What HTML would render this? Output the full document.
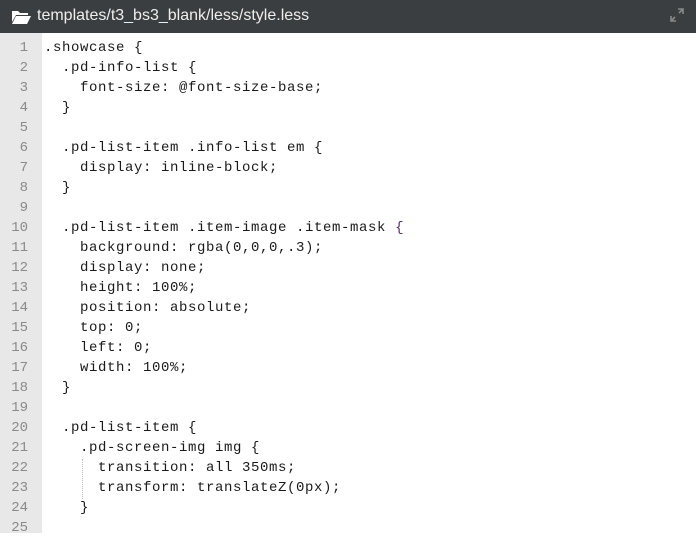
<!DOCTYPE html>
<html><head><style>
body{margin:0;width:696px;height:533px;overflow:hidden;background:#fff;font-family:"Liberation Sans",sans-serif;}
.hdr{position:absolute;left:0;top:0;width:696px;height:33px;background:#3b3e40;color:#eee;font-size:16px;}
.hdr .t{position:absolute;left:37px;top:7px;}
.gut{position:absolute;left:0;top:33px;width:42px;height:500px;background:#e8e8e8;}
.code{position:absolute;left:0;top:38px;font-family:"Liberation Mono","Courier New",monospace;font-size:14px;letter-spacing:0.6px;line-height:20px;color:#1a1a1a;white-space:pre;}
.ln{display:inline-block;width:28px;text-align:right;color:#8a8a8a;margin-right:16px;letter-spacing:0;font-size:14px;}
.p{color:#5a2a6a}
.guide{position:absolute;left:82px;top:459px;height:40px;border-left:1px dotted #bbb;}
</style></head><body>
<div class="hdr">
<svg style="position:absolute;left:12px;top:9px" width="19" height="15" viewBox="0 0 19 15"><path d="M0 2h6l2 2h8v2H4L0 13z" fill="#fff"/><path d="M4 7h15l-4 8H0z" fill="#fff"/></svg>
<span class="t">templates/t3_bs3_blank/less/style.less</span>
<svg style="position:absolute;left:670px;top:8px" width="14" height="14" viewBox="0 0 14 14"><path d="M8 1h5v5M13 1L9 5M6 13H1V8M1 13l4-4" stroke="#888" stroke-width="1.6" fill="none"/></svg>
</div>
<div class="gut"></div>
<div class="guide"></div>
<div class="code"><span class="ln">1</span>.showcase {
<span class="ln">2</span>  .pd-info-list {
<span class="ln">3</span>    font-size: @font-size-base;
<span class="ln">4</span>  }
<span class="ln">5</span>
<span class="ln">6</span>  .pd-list-item .info-list em {
<span class="ln">7</span>    display: inline-block;
<span class="ln">8</span>  }
<span class="ln">9</span>
<span class="ln">10</span>  .pd-list-item .item-image .item-mask <span class="p">{</span>
<span class="ln">11</span>    background: rgba(0,0,0,.3);
<span class="ln">12</span>    display: none;
<span class="ln">13</span>    height: 100%;
<span class="ln">14</span>    position: absolute;
<span class="ln">15</span>    top: 0;
<span class="ln">16</span>    left: 0;
<span class="ln">17</span>    width: 100%;
<span class="ln">18</span>  }
<span class="ln">19</span>
<span class="ln">20</span>  .pd-list-item {
<span class="ln">21</span>    .pd-screen-img img {
<span class="ln">22</span>      transition: all 350ms;
<span class="ln">23</span>      transform: translateZ(0px);
<span class="ln">24</span>    }
<span class="ln">25</span>
</div>
</body></html>
